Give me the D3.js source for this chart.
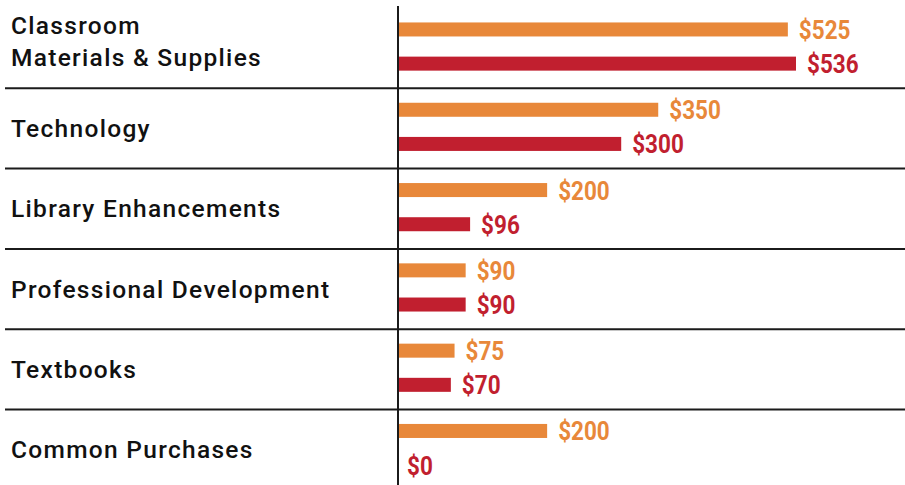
<!DOCTYPE html>
<html>
<head>
<meta charset="utf-8">
<script src="https://cdn.jsdelivr.net/npm/d3@7"></script>
<style>
  body { margin: 0; background: #fff; }
  svg { display: block; }
</style>
</head>
<body>
<div id="chart"></div>
<script>
// categories (line breaks with \n) and the two series
const categories = [
  "Classroom\nMaterials & Supplies",
  "Technology",
  "Library Enhancements",
  "Professional Development",
  "Textbooks",
  "Common Purchases"
];
const seriesKeys = ["first", "second"];
const firstValues = [525, 350, 200, 90, 75, 200];
const secondValues = [536, 300, 96, 90, 70, 0];

const colors = { first: "#e8883a", second: "#c11f2f" };

const width = 905, height = 485;
const axisX = 398;

const data = categories.map((c, i) => ({ category: c, first: firstValues[i], second: secondValues[i] }));

const svg = d3.select("#chart").append("svg")
  .attr("width", width)
  .attr("height", height);

// rows
const yScale = d3.scaleBand()
  .domain(categories)
  .range([8, 8 + 80.3 * categories.length]);

const ySub = d3.scaleBand()
  .domain(seriesKeys)
  .range([0, yScale.bandwidth()])
  .paddingInner(0.59)
  .paddingOuter(0.47)
  .align(0.45);

const maxVal = d3.max(data, d => Math.max(d.first, d.second));
const xScale = d3.scaleLinear()
  .domain([0, maxVal])
  .range([axisX + 1, 796]);

// separators between rows
svg.append("g")
  .selectAll("line")
  .data(categories.slice(1))
  .join("line")
  .attr("x1", 5)
  .attr("x2", width)
  .attr("y1", d => yScale(d))
  .attr("y2", d => yScale(d))
  .attr("stroke", "#1b1b1b")
  .attr("stroke-width", 2);

// category labels
const labels = svg.append("g")
  .selectAll("text")
  .data(categories)
  .join("text")
  .attr("x", 11)
  .attr("font-family", "Roboto, sans-serif")
  .attr("font-weight", 500)
  .attr("font-size", 24.5)
  .attr("letter-spacing", 1.3)
  .attr("fill", "#111");

labels.each(function(d) {
  const lines = d.split("\n");
  const mid = yScale(d) + yScale.bandwidth() / 2 + 8.5;
  const first = mid - (lines.length - 1) * 16 - (lines.length > 1 ? 7 : 0);
  d3.select(this).selectAll("tspan")
    .data(lines)
    .join("tspan")
    .attr("x", 11)
    .attr("y", (l, i) => first + i * 32)
    .text(l => l);
});

// bars
const rows = svg.append("g")
  .selectAll("g")
  .data(data)
  .join("g")
  .attr("transform", d => `translate(0, ${yScale(d.category)})`);

const items = rows.selectAll("g")
  .data(d => seriesKeys.map(key => ({ key: key, value: d[key] })))
  .join("g");

items.append("rect")
  .attr("x", xScale(0))
  .attr("y", d => ySub(d.key))
  .attr("width", d => xScale(d.value) - xScale(0))
  .attr("height", ySub.bandwidth())
  .attr("fill", d => colors[d.key]);

// value labels (condensed look via horizontal scaling)
items.append("text")
  .attr("transform", d => {
    const x = d.value === 0 ? xScale(0) + 8 : xScale(d.value) + 11;
    const y = ySub(d.key) + ySub.bandwidth() / 2 + 9.5;
    return `translate(${x}, ${y}) scale(0.9, 1)`;
  })
  .attr("font-family", "Roboto, sans-serif")
  .attr("font-weight", 700)
  .attr("font-size", 25)
  .attr("fill", d => colors[d.key])
  .text(d => "$" + d.value);

// vertical axis line
svg.append("line")
  .attr("x1", axisX)
  .attr("x2", axisX)
  .attr("y1", 6)
  .attr("y2", height)
  .attr("stroke", "#1b1b1b")
  .attr("stroke-width", 2);
</script>
</body>
</html>
